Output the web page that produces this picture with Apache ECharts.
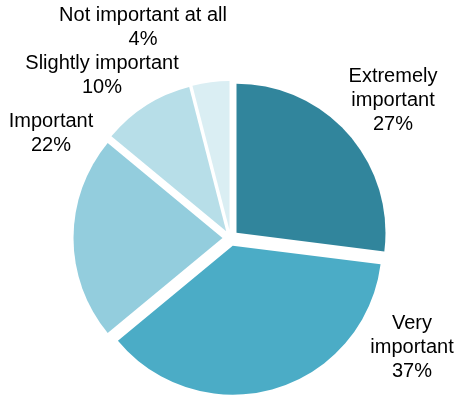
<!DOCTYPE html>
<html>
<head>
<meta charset="utf-8">
<script src="https://cdn.jsdelivr.net/npm/echarts@6/dist/echarts.min.js"></script>
<style>
  html, body { margin: 0; padding: 0; background: #ffffff; }
  #chart { width: 456px; height: 396px; }
</style>
</head>
<body>
<div id="chart"></div>
<script>
// Survey answers: how important is it?
const categories = ['Extremely\nimportant', 'Very\nimportant', 'Important', 'Slightly important', 'Not important at all'];
const shares = [27, 37, 22, 10, 4];
const colors = ['#31859C', '#4BACC6', '#93CDDD', '#B7DEE8', '#DAEEF3'];

// Where each label block is centred (pixels)
const labelSpots = [[393, 100], [412, 347], [51, 133], [102, 75], [143, 27]];

const chart = echarts.init(document.getElementById('chart'), null, { renderer: 'canvas' });

chart.setOption({
  animation: false,
  series: [{
    type: 'pie',
    center: [230.5, 238],
    radius: [0, 149],
    startAngle: 90,
    clockwise: true,
    selectedMode: 'multiple',
    selectedOffset: 8,
    emphasis: { disabled: true },
    silent: true,
    itemStyle: { borderWidth: 0 },
    label: { show: false },
    labelLine: { show: false },
    data: categories.map((name, i) => ({
      name,
      value: shares[i],
      selected: true,
      itemStyle: { color: colors[i] }
    }))
  }],
  // Category name and share written beside each slice
  graphic: categories.map((name, i) => ({
    type: 'text',
    x: labelSpots[i][0],
    y: labelSpots[i][1],
    silent: true,
    style: {
      text: name + '\n' + shares[i] + '%',
      fontFamily: '"Liberation Sans", Arial, sans-serif',
      fontSize: 20,
      lineHeight: 24,
      fill: '#000000',
      align: 'center',
      verticalAlign: 'middle'
    }
  }))
});
</script>
</body>
</html>
